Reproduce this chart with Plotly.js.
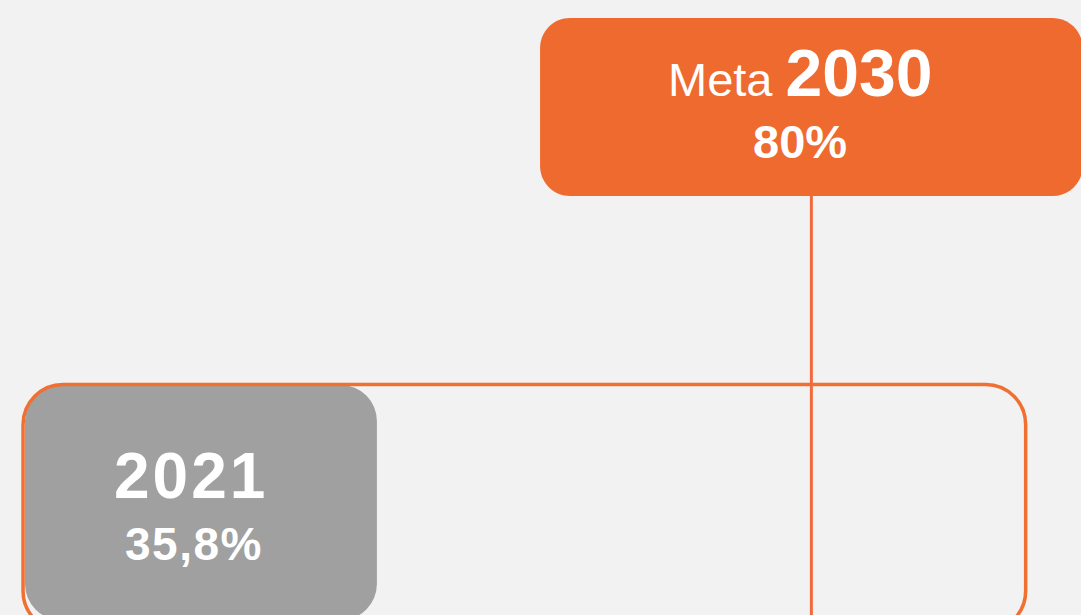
<!DOCTYPE html>
<html>
<head>
<meta charset="utf-8">
<script src="https://cdn.plot.ly/plotly-3.0.1.min.js"></script>
<style>
  html, body { margin: 0; padding: 0; background: #f2f2f2; }
  #chart { width: 1081px; height: 615px; }
</style>
</head>
<body>
<div id="chart"></div>
<script>
// ---- data ----
const years = ['2021', '2030'];
const values = [35.8, 80];          // % achieved in 2021, target for 2030
const valueLabels = ['35,8%', '80%'];
const targetPrefix = 'Meta';

// ---- styling ----
const ORANGE = '#ef6a2f';
const OUTLINE_ORANGE = '#f07032';
const LINE_ORANGE = '#f26a3c';
const GREY = '#a0a0a0';
const BG = '#f2f2f2';
const FONT = 'Liberation Sans, Arial, sans-serif';

const W = 1081, H = 615;
const xRange = [-2.543, 107.43];
const k = W / (xRange[1] - xRange[0]);   // px per x unit
const yRange = [H, 0];                    // y in px-like units, top = 0

function roundedPath(x0, x1, y0, y1, rpx) {
  const rx = rpx / k, ry = rpx, c = 0.4477;
  return 'M' + (x0 + rx) + ',' + y0 +
    ' L' + (x1 - rx) + ',' + y0 +
    ' C' + (x1 - rx * c) + ',' + y0 + ' ' + x1 + ',' + (y0 + ry * c) + ' ' + x1 + ',' + (y0 + ry) +
    ' L' + x1 + ',' + (y1 - ry) +
    ' C' + x1 + ',' + (y1 - ry * c) + ' ' + (x1 - rx * c) + ',' + y1 + ' ' + (x1 - rx) + ',' + y1 +
    ' L' + (x0 + rx) + ',' + y1 +
    ' C' + (x0 + rx * c) + ',' + y1 + ' ' + x0 + ',' + (y1 - ry * c) + ' ' + x0 + ',' + (y1 - ry) +
    ' L' + x0 + ',' + (y0 + ry) +
    ' C' + x0 + ',' + (y0 + ry * c) + ' ' + (x0 + rx * c) + ',' + y0 + ' ' + (x0 + rx) + ',' + y0 + ' Z';
}

// geometry (layout, not data)
const barTop = 385, barBottom = 620;
const barCenter = (barTop + barBottom) / 2, barWidth = barBottom - barTop;
const trackTop = 384.5, trackBottom = 631, trackLeft = -0.2, trackRight = 101.8;
const boxTop = 18, boxBottom = 196, boxHalf = 27.6;

const traces = [
  { type: 'bar', orientation: 'h', y: [barCenter], x: [values[0]], base: [0], width: [barWidth],
    marker: { color: GREY, cornerradius: 36, line: { width: 0 } }, hoverinfo: 'skip', showlegend: false }
];

const target = values[1];
const shapes = [
  { type: 'path', xref: 'x', yref: 'y', layer: 'above',
    path: roundedPath(trackLeft, trackRight, trackTop, trackBottom, 40),
    line: { color: OUTLINE_ORANGE, width: 3.5 }, fillcolor: 'rgba(0,0,0,0)' },
  { type: 'path', xref: 'x', yref: 'y', layer: 'above',
    path: roundedPath(target - boxHalf, target + boxHalf, boxTop, boxBottom, 30),
    line: { width: 0 }, fillcolor: ORANGE },
  { type: 'line', xref: 'x', yref: 'y', layer: 'above',
    x0: target, x1: target, y0: boxBottom, y1: H,
    line: { color: LINE_ORANGE, width: 3 } }
];

const annotations = [
  { xref: 'x', yref: 'y', x: target, y: 73, xshift: -11, showarrow: false,
    text: targetPrefix + ' <span style="font-size:66px;font-weight:bold">' + years[1] + '</span>',
    font: { family: FONT, size: 47, color: '#ffffff' } },
  { xref: 'x', yref: 'y', x: target, y: 141.5, xshift: -11, showarrow: false,
    text: '<b>' + valueLabels[1] + '</b>',
    font: { family: FONT, size: 47, color: '#ffffff' } },
  { xref: 'x', yref: 'y', x: values[0] / 2, y: 476, xshift: -10, showarrow: false,
    text: '<span style="letter-spacing:3px"><b>' + years[0] + '</b></span>',
    font: { family: FONT, size: 64, color: '#ffffff' } },
  { xref: 'x', yref: 'y', x: values[0] / 2, y: 543.5, xshift: -7, showarrow: false,
    text: '<span style="letter-spacing:1.5px"><b>' + valueLabels[0] + '</b></span>',
    font: { family: FONT, size: 46, color: '#ffffff' } }
];

const layout = {
  width: W, height: H,
  margin: { l: 0, r: 0, t: 0, b: 0, pad: 0 },
  paper_bgcolor: BG, plot_bgcolor: BG,
  barmode: 'overlay',
  xaxis: { range: xRange, visible: false, fixedrange: true },
  yaxis: { range: yRange, visible: false, fixedrange: true },
  shapes: shapes,
  annotations: annotations,
  showlegend: false
};

Plotly.newPlot('chart', traces, layout, { displayModeBar: false, staticPlot: true });
</script>
</body>
</html>
